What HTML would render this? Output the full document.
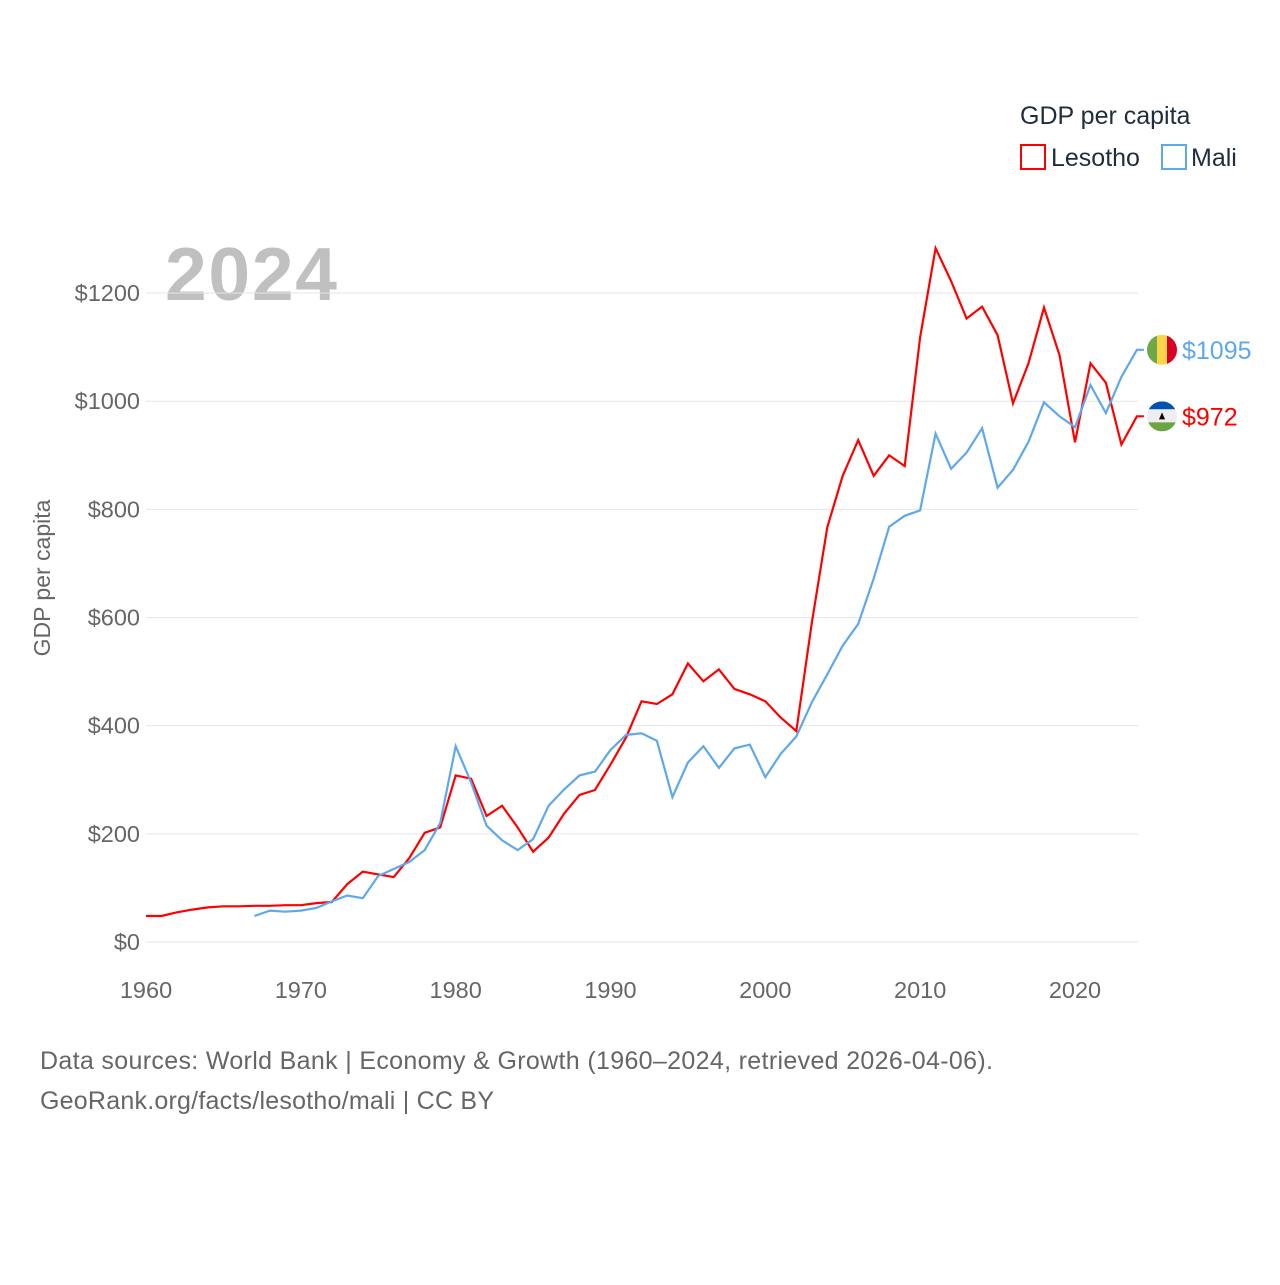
<!DOCTYPE html>
<html><head><meta charset="utf-8"><style>
body{margin:0;background:#fff;width:1280px;height:1280px;overflow:hidden;font-family:"Liberation Sans",sans-serif}
</style></head><body>
<svg id="chart" width="1280" height="1280" xmlns="http://www.w3.org/2000/svg" font-family="Liberation Sans, sans-serif">
<text x="1020" y="124" font-size="25" fill="#1f2d3d">GDP per capita</text>
<rect x="1021" y="145" width="24" height="24" fill="none" stroke="#ff0000" stroke-width="2"/>
<text x="1051" y="166" font-size="25" fill="#1f2d3d">Lesotho</text>
<rect x="1162" y="145" width="24" height="24" fill="none" stroke="#5fa8ec" stroke-width="2"/>
<text x="1191" y="166" font-size="25" fill="#1f2d3d">Mali</text>
<text x="165" y="300" font-size="75" font-weight="bold" fill="#c0c0c0" textLength="172">2024</text>
<text transform="translate(50,578) rotate(-90)" text-anchor="middle" font-size="23" fill="#666">GDP per capita</text>
<g id="grid"></g><g id="lines"></g><g id="labels"></g>
<text x="40" y="1069" font-size="25" fill="#666" textLength="953">Data sources: World Bank | Economy &amp; Growth (1960–2024, retrieved 2026-04-06).</text>
<text x="40" y="1109" font-size="25" fill="#666" textLength="454">GeoRank.org/facts/lesotho/mali | CC BY</text>
</svg>
<script>
const yTicks=[0,200,400,600,800,1000,1200];
const xTicks=[1960,1970,1980,1990,2000,2010,2020];
const lesothoStart=1960;
const lesotho=[48,48,55,60,64,66,66,67,67,68,68,72,74,107,130,125,120,155,202,212,308,302,233,252,212,167,193,237,272,281,328,378,445,440,458,515,482,504,468,458,445,415,390,590,767,862,928,862,900,880,1118,1283,1222,1153,1175,1122,996,1070,1173,1085,924,1070,1034,920,972];
const maliStart=1967;
const mali=[48,58,56,58,63,75,86,81,122,135,148,170,220,362,295,215,188,170,190,252,282,308,315,355,383,386,372,268,332,362,322,358,365,305,348,380,443,495,548,588,672,768,788,798,940,875,905,950,840,873,925,998,972,952,1030,978,1045,1095];
const NS='http://www.w3.org/2000/svg';
const x=yr=>146+(yr-1960)*15.483;
const y=v=>942-v*0.5408;
function mk(t,a,p){const e=document.createElementNS(NS,t);for(const k in a)e.setAttribute(k,a[k]);p.appendChild(e);return e;}
const grid=document.getElementById('grid');
yTicks.forEach(v=>{
 const l=mk('line',{x1:146,x2:1138,y1:y(v),y2:y(v),stroke:'#e6e6e6','stroke-width':1},grid);
 
 
 const t=mk('text',{x:140,y:y(v)+8,'text-anchor':'end','font-size':23.5,fill:'#666'},grid);
 t.textContent='$'+v;
 
 
});
xTicks.forEach(v=>{
 const t=mk('text',{x:x(v),y:998,'text-anchor':'middle','font-size':23.5,fill:'#666'},grid);
 t.textContent=v;
 
 
});
const lines=document.getElementById('lines');
function series(data,start,color,name){
 const pts=data.map((v,i)=>x(start+i).toFixed(1)+','+y(v).toFixed(1));
 const lastX=x(start+data.length-1),lastY=y(data[data.length-1]);
 pts.push((lastX+7)+','+lastY.toFixed(1));
 const p=mk('polyline',{points:pts.join(' '),fill:'none',stroke:color,'stroke-width':2.2,'stroke-linejoin':'miter'},lines);
 
 
 return lastY;
}
const ly=series(lesotho,lesothoStart,'#ff0000','lesotho');
const my=series(mali,maliStart,'#5fa8ec','mali');
const lab=document.getElementById('labels');
const fm=mk('g',{},lab);


const cpm=mk('clipPath',{id:'cm'},fm);mk('circle',{cx:1162,cy:my,r:15},cpm);
const gm=mk('g',{'clip-path':'url(#cm)'},fm);
mk('rect',{x:1147,y:my-15,width:10,height:30,fill:'#6fa84a'},gm);
mk('rect',{x:1157,y:my-15,width:10,height:30,fill:'#fcd447'},gm);
mk('rect',{x:1167,y:my-15,width:10,height:30,fill:'#d80027'},gm);
const tm=mk('text',{x:1182,y:my+9,'font-size':25,fill:'#5fa8ec'},lab);
tm.textContent='$'+mali[mali.length-1];


const fl=mk('g',{},lab);


const cp=mk('clipPath',{id:'cl'},fl);mk('circle',{cx:1162,cy:ly,r:15},cp);
const gl=mk('g',{'clip-path':'url(#cl)'},fl);
mk('rect',{x:1147,y:ly-15,width:30,height:8,fill:'#0052b4'},gl);
mk('rect',{x:1147,y:ly-7,width:30,height:13,fill:'#eeeeee'},gl);
mk('rect',{x:1147,y:ly+6,width:30,height:9,fill:'#6da544'},gl);
mk('path',{d:`M${1162-3} ${ly+3} L${1162+3} ${ly+3} L1162 ${ly-4} Z`,fill:'#000'},gl);
const tl=mk('text',{x:1182,y:ly+9,'font-size':25,fill:'#ff0000'},lab);
tl.textContent='$'+lesotho[lesotho.length-1];


</script>
</body></html>
